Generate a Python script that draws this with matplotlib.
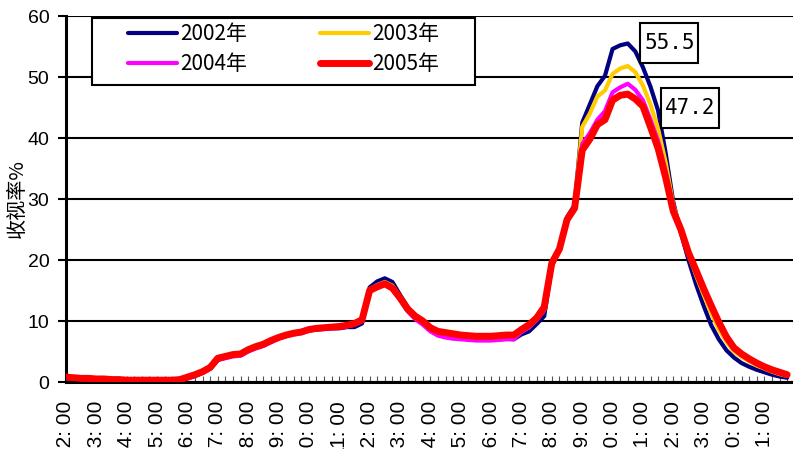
import numpy as np
import matplotlib.pyplot as plt
from matplotlib.ticker import MultipleLocator
from matplotlib.patches import Rectangle

# 收视率, 每15分钟一个点, 从02:00到次日01:45
v2002 = [0.6, 0.5, 0.4, 0.4, 0.3, 0.3, 0.3, 0.2, 0.2, 0.2, 0.2, 0.2,
         0.2, 0.2, 0.2, 0.2, 0.6, 1.0, 1.5, 2.2, 3.6, 4.0, 4.3, 4.4,
         5.1, 5.6, 6.0, 6.6, 7.2, 7.6, 7.9, 8.1, 8.5, 8.6, 8.7, 8.8,
         8.8, 9.0, 9.0, 9.6, 15.5, 16.5, 17.0, 16.4, 14.3, 12.3, 10.8, 9.8,
         8.5, 7.8, 7.5, 7.3, 7.2, 7.0, 6.9, 6.9, 6.9, 7.0, 7.1, 7.0,
         7.8, 8.3, 9.5, 10.8, 19.0, 21.8, 27.0, 29.0, 42.5, 45.5, 48.5, 50.2,
         54.6, 55.2, 55.5, 54.2, 51.6, 48.4, 44.5, 37.5, 29.5, 24.5, 20.0, 16.0,
         12.5, 9.3, 7.0, 5.2, 4.0, 3.1, 2.5, 2.0, 1.6, 1.2, 0.9, 0.7]
v2003 = [0.7, 0.6, 0.5, 0.5, 0.4, 0.4, 0.3, 0.3, 0.3, 0.3, 0.2, 0.2,
         0.2, 0.2, 0.3, 0.3, 0.7, 1.1, 1.6, 2.3, 3.8, 4.1, 4.4, 4.5,
         5.2, 5.7, 6.1, 6.7, 7.2, 7.6, 7.9, 8.1, 8.5, 8.7, 8.8, 8.9,
         9.0, 9.2, 9.4, 10.0, 15.2, 15.9, 16.4, 15.8, 14.0, 12.1, 10.8, 9.9,
         8.7, 8.1, 7.8, 7.6, 7.5, 7.3, 7.2, 7.2, 7.2, 7.3, 7.4, 7.4,
         8.3, 9.0, 10.2, 11.8, 19.2, 21.8, 26.8, 28.8, 41.8, 44.0, 46.8, 47.8,
         50.5, 51.4, 51.8, 50.8, 48.6, 45.5, 41.5, 36.0, 29.0, 25.0, 21.0, 17.5,
         14.3, 11.3, 8.6, 6.6, 5.0, 4.1, 3.4, 2.7, 2.2, 1.7, 1.3, 1.0]
v2004 = [0.7, 0.6, 0.5, 0.5, 0.4, 0.4, 0.3, 0.3, 0.2, 0.2, 0.2, 0.2,
         0.2, 0.2, 0.2, 0.3, 0.6, 1.0, 1.5, 2.2, 3.6, 3.9, 4.2, 4.3,
         5.0, 5.5, 5.9, 6.5, 7.1, 7.5, 7.8, 8.0, 8.4, 8.6, 8.7, 8.8,
         8.9, 9.1, 9.4, 10.0, 15.0, 15.6, 16.0, 15.2, 13.5, 11.6, 10.3, 9.4,
         8.3, 7.6, 7.3, 7.1, 7.0, 6.9, 6.8, 6.8, 6.8, 6.9, 7.0, 7.0,
         8.2, 9.0, 10.2, 11.8, 19.3, 21.6, 26.5, 28.3, 39.0, 40.8, 43.0, 44.4,
         47.5, 48.3, 48.9, 47.9, 46.2, 43.0, 39.5, 34.5, 28.0, 24.8, 21.0, 18.0,
         15.0, 12.2, 9.6, 7.2, 5.5, 4.5, 3.7, 3.0, 2.4, 1.9, 1.5, 1.1]
v2005 = [0.8, 0.7, 0.6, 0.6, 0.5, 0.5, 0.4, 0.4, 0.3, 0.3, 0.3, 0.3,
         0.3, 0.3, 0.3, 0.4, 0.8, 1.2, 1.7, 2.4, 3.9, 4.2, 4.5, 4.6,
         5.3, 5.8, 6.2, 6.8, 7.3, 7.7, 8.0, 8.2, 8.6, 8.8, 8.9, 9.0,
         9.1, 9.3, 9.6, 10.2, 15.0, 15.6, 16.1, 15.4, 13.8, 12.0, 10.8, 10.0,
         8.9, 8.3, 8.1, 7.9, 7.7, 7.6, 7.5, 7.5, 7.5, 7.6, 7.7, 7.7,
         8.6, 9.4, 10.5, 12.3, 19.5, 21.8, 26.6, 28.5, 38.0, 39.8, 42.2, 43.0,
         46.2, 47.0, 47.2, 46.4, 45.2, 41.8, 38.3, 33.5, 28.0, 25.0, 21.2, 18.3,
         15.3, 12.5, 9.8, 7.4, 5.6, 4.6, 3.8, 3.1, 2.5, 2.0, 1.6, 1.2]

years = ['2002年', '2003年', '2004年', '2005年']
colors = ['#000080', '#FFCC00', '#FF00FF', '#FF0000']
widths = [3, 3, 3, 5]

hours = list(range(2, 26))
hour_labels = ['%02d: 00' % (h % 24) for h in hours]

t = 2 + 0.25 * np.arange(len(v2005))

fig = plt.figure(figsize=(7.93, 4.49), dpi=100)
ax = fig.add_axes([0.0832, 0.1492, 0.919, 0.8151])

lines = []
for vals, name, c, lw in zip([v2002, v2003, v2004, v2005], years, colors, widths):
    ln, = ax.plot(t, vals, color=c, lw=lw, label=name, solid_capstyle='round', zorder=3)
    lines.append(ln)

ax.set_xlim(2, 26)
ax.set_ylim(0, 60)
ax.set_yticks(range(0, 61, 10))
ax.set_xticks(hours)
ax.set_xticklabels(hour_labels, rotation=90, fontsize=15, family='Liberation Sans')
ax.xaxis.set_minor_locator(MultipleLocator(0.25))
ax.tick_params(axis='x', which='both', direction='in', length=4.5, width=0.8,
               color='#555555', pad=13.5)
ax.tick_params(axis='y', direction='out', length=5.5, width=1.5, pad=6.5,
               labelsize=14)
for lab in ax.get_yticklabels():
    lab.set_family('Liberation Sans')

ax.grid(axis='y', color='black', lw=1.5)
ax.set_axisbelow(True)
for s in ['top', 'right']:
    ax.spines[s].set_visible(False)
ax.spines['left'].set_linewidth(2.2)
ax.spines['bottom'].set_linewidth(2.2)

ax.set_ylabel('收视率%', family=['Noto Sans CJK SC', 'DejaVu Sans'], fontsize=14.5)
ax.yaxis.set_label_coords(-0.052, 0.5)

# 峰值标注: 文字加方框
def peak_box(x, y, val):
    ax.text(x, y, '%.1f' % val, family='DejaVu Sans Mono', fontsize=15,
            ha='center', va='center', zorder=6)
    ax.add_patch(Rectangle((x - 0.955, y - 3.28), 1.91, 6.56, fc='white',
                           ec='black', lw=1.5, zorder=5))

peak_box(21.87, 55.6, max(v2002))
peak_box(22.55, 44.9, max(v2005))

# 图例按行排列: 2002 2003 / 2004 2005
order = [0, 2, 1, 3]
leg = ax.legend([lines[i] for i in order], [years[i] for i in order],
                loc='upper left', ncol=2,
                bbox_to_anchor=(128 / 793, 1 - 23 / 449),
                bbox_transform=fig.transFigure, borderaxespad=0, borderpad=0,
                prop={'family': ['Noto Sans CJK SC', 'DejaVu Sans'], 'size': 15},
                handlelength=2.35, handletextpad=0.15, labelspacing=0.4,
                columnspacing=3.5, frameon=False)
leg.set_zorder(7)
ax.add_patch(Rectangle((92 / 793, 1 - 85 / 449), 383 / 793, 67 / 449,
                       transform=fig.transFigure, fc='white', ec='black',
                       lw=1.5, zorder=6, clip_on=False))

plt.savefig('out.png', dpi=100)
